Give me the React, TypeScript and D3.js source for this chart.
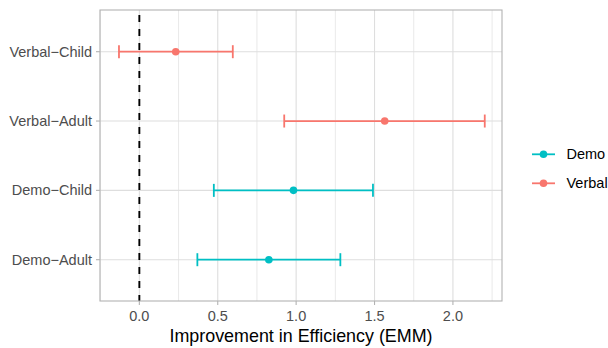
import { useEffect, useRef } from "react";
import * as d3 from "d3";

const rows = ["Verbal\u2212Child", "Verbal\u2212Adult", "Demo\u2212Child", "Demo\u2212Adult"];
const groups = ["Verbal", "Verbal", "Demo", "Demo"];
const emm = [0.232, 1.565, 0.983, 0.826];
const lower = [-0.13, 0.924, 0.475, 0.37];
const upper = [0.596, 2.203, 1.49, 1.282];
const xTicks = [0, 0.5, 1, 1.5, 2];
const legendItems = ["Demo", "Verbal"];
const colors: Record<string, string> = { Demo: "#00BFC4", Verbal: "#F8766D" };

export default function App() {
  const svgRef = useRef<SVGSVGElement | null>(null);

  useEffect(() => {
    if (!svgRef.current) return;
    const svg = d3.select(svgRef.current);
    svg.selectAll("*").remove();

    const W = 608;
    const H = 348;
    const panel = { left: 100, top: 10, right: 502, bottom: 301 };
    const font = "Liberation Sans, Arial, sans-serif";

    const x = d3.scaleLinear().domain([-0.251, 2.313]).range([panel.left, panel.right]);
    const y = d3
      .scalePoint<string>()
      .domain(rows)
      .range([panel.top + 41.7, panel.bottom - 41.3]);

    svg.attr("width", W).attr("height", H).attr("viewBox", `0 0 ${W} ${H}`);
    svg.append("rect").attr("width", W).attr("height", H).attr("fill", "white");

    const g = svg.append("g");

    // minor grid
    const minor = xTicks.slice(0, -1).map((t) => t + 0.25).concat([-0.25, 2.25]);
    g.selectAll("line.minor")
      .data(minor.filter((t) => x(t) > panel.left && x(t) < panel.right))
      .join("line")
      .attr("x1", (d) => x(d))
      .attr("x2", (d) => x(d))
      .attr("y1", panel.top)
      .attr("y2", panel.bottom)
      .attr("stroke", "#e3e3e3")
      .attr("stroke-width", 0.8);

    // major grid
    g.selectAll("line.vmajor")
      .data(xTicks)
      .join("line")
      .attr("x1", (d) => x(d))
      .attr("x2", (d) => x(d))
      .attr("y1", panel.top)
      .attr("y2", panel.bottom)
      .attr("stroke", "#dedede")
      .attr("stroke-width", 1.1);
    g.selectAll("line.hmajor")
      .data(rows)
      .join("line")
      .attr("x1", panel.left)
      .attr("x2", panel.right)
      .attr("y1", (d) => y(d)!)
      .attr("y2", (d) => y(d)!)
      .attr("stroke", "#dedede")
      .attr("stroke-width", 1.1);

    // reference line at zero
    g.append("line")
      .attr("x1", x(0))
      .attr("x2", x(0))
      .attr("y1", panel.top)
      .attr("y2", panel.bottom)
      .attr("stroke", "black")
      .attr("stroke-width", 1.9)
      .attr("stroke-dasharray", "7,7")
      .attr("stroke-dashoffset", 9);

    // error bars
    const data = rows.map((r, i) => ({
      row: r,
      group: groups[i],
      emm: emm[i],
      lo: lower[i],
      hi: upper[i],
    }));
    const cap = 6.5;
    const sw = 1.8;
    const bars = g.selectAll("g.bar").data(data).join("g");
    bars
      .append("line")
      .attr("x1", (d) => x(d.lo))
      .attr("x2", (d) => x(d.hi))
      .attr("y1", (d) => y(d.row)!)
      .attr("y2", (d) => y(d.row)!)
      .attr("stroke", (d) => colors[d.group])
      .attr("stroke-width", sw);
    bars
      .append("line")
      .attr("x1", (d) => x(d.lo))
      .attr("x2", (d) => x(d.lo))
      .attr("y1", (d) => y(d.row)! - cap)
      .attr("y2", (d) => y(d.row)! + cap)
      .attr("stroke", (d) => colors[d.group])
      .attr("stroke-width", sw);
    bars
      .append("line")
      .attr("x1", (d) => x(d.hi))
      .attr("x2", (d) => x(d.hi))
      .attr("y1", (d) => y(d.row)! - cap)
      .attr("y2", (d) => y(d.row)! + cap)
      .attr("stroke", (d) => colors[d.group])
      .attr("stroke-width", sw);
    bars
      .append("circle")
      .attr("cx", (d) => x(d.emm))
      .attr("cy", (d) => y(d.row)!)
      .attr("r", 3.8)
      .attr("fill", (d) => colors[d.group]);

    // panel border
    g.append("rect")
      .attr("x", panel.left)
      .attr("y", panel.top)
      .attr("width", panel.right - panel.left)
      .attr("height", panel.bottom - panel.top)
      .attr("fill", "none")
      .attr("stroke", "#b3b3b3")
      .attr("stroke-width", 1.1);

    // x axis ticks and labels
    g.selectAll("line.xtick")
      .data(xTicks)
      .join("line")
      .attr("x1", (d) => x(d))
      .attr("x2", (d) => x(d))
      .attr("y1", panel.bottom)
      .attr("y2", panel.bottom + 4)
      .attr("stroke", "#b3b3b3")
      .attr("stroke-width", 1.1);
    g.selectAll("text.xlab")
      .data(xTicks)
      .join("text")
      .attr("x", (d) => x(d))
      .attr("y", panel.bottom + 15)
      .attr("dy", "0.35em")
      .attr("text-anchor", "middle")
      .attr("font-family", font)
      .attr("font-size", 14.5)
      .attr("fill", "#4d4d4d")
      .text((d) => d3.format(".1f")(d));

    // y axis ticks and labels
    g.selectAll("line.ytick")
      .data(rows)
      .join("line")
      .attr("x1", panel.left - 4)
      .attr("x2", panel.left)
      .attr("y1", (d) => y(d)!)
      .attr("y2", (d) => y(d)!)
      .attr("stroke", "#b3b3b3")
      .attr("stroke-width", 1.1);
    g.selectAll("text.ylab")
      .data(rows)
      .join("text")
      .attr("x", panel.left - 8)
      .attr("y", (d) => y(d)!)
      .attr("dy", "0.35em")
      .attr("text-anchor", "end")
      .attr("font-family", font)
      .attr("font-size", 14.5)
      .attr("fill", "#4d4d4d")
      .text((d) => d);

    // x axis title
    g.append("text")
      .attr("x", (panel.left + panel.right) / 2)
      .attr("y", 336)
      .attr("dy", "0.35em")
      .attr("text-anchor", "middle")
      .attr("font-family", font)
      .attr("font-size", 17.9)
      .attr("fill", "black")
      .text("Improvement in Efficiency (EMM)");

    // legend
    const legend = g
      .selectAll("g.legend")
      .data(legendItems)
      .join("g")
      .attr("transform", (_d, i) => `translate(532,${154.3 + i * 29})`);
    legend
      .append("line")
      .attr("x1", 0)
      .attr("x2", 23)
      .attr("stroke", (d) => colors[d])
      .attr("stroke-width", sw);
    legend
      .append("circle")
      .attr("cx", 11.5)
      .attr("r", 3.8)
      .attr("fill", (d) => colors[d]);
    legend
      .append("text")
      .attr("x", 34.5)
      .attr("dy", "0.35em")
      .attr("font-family", font)
      .attr("font-size", 14.5)
      .attr("fill", "black")
      .text((d) => d);
  }, []);

  return (
    <div style={{ position: "absolute", left: 0, top: 0 }}>
      <svg ref={svgRef} style={{ display: "block" }}></svg>
    </div>
  );
}
